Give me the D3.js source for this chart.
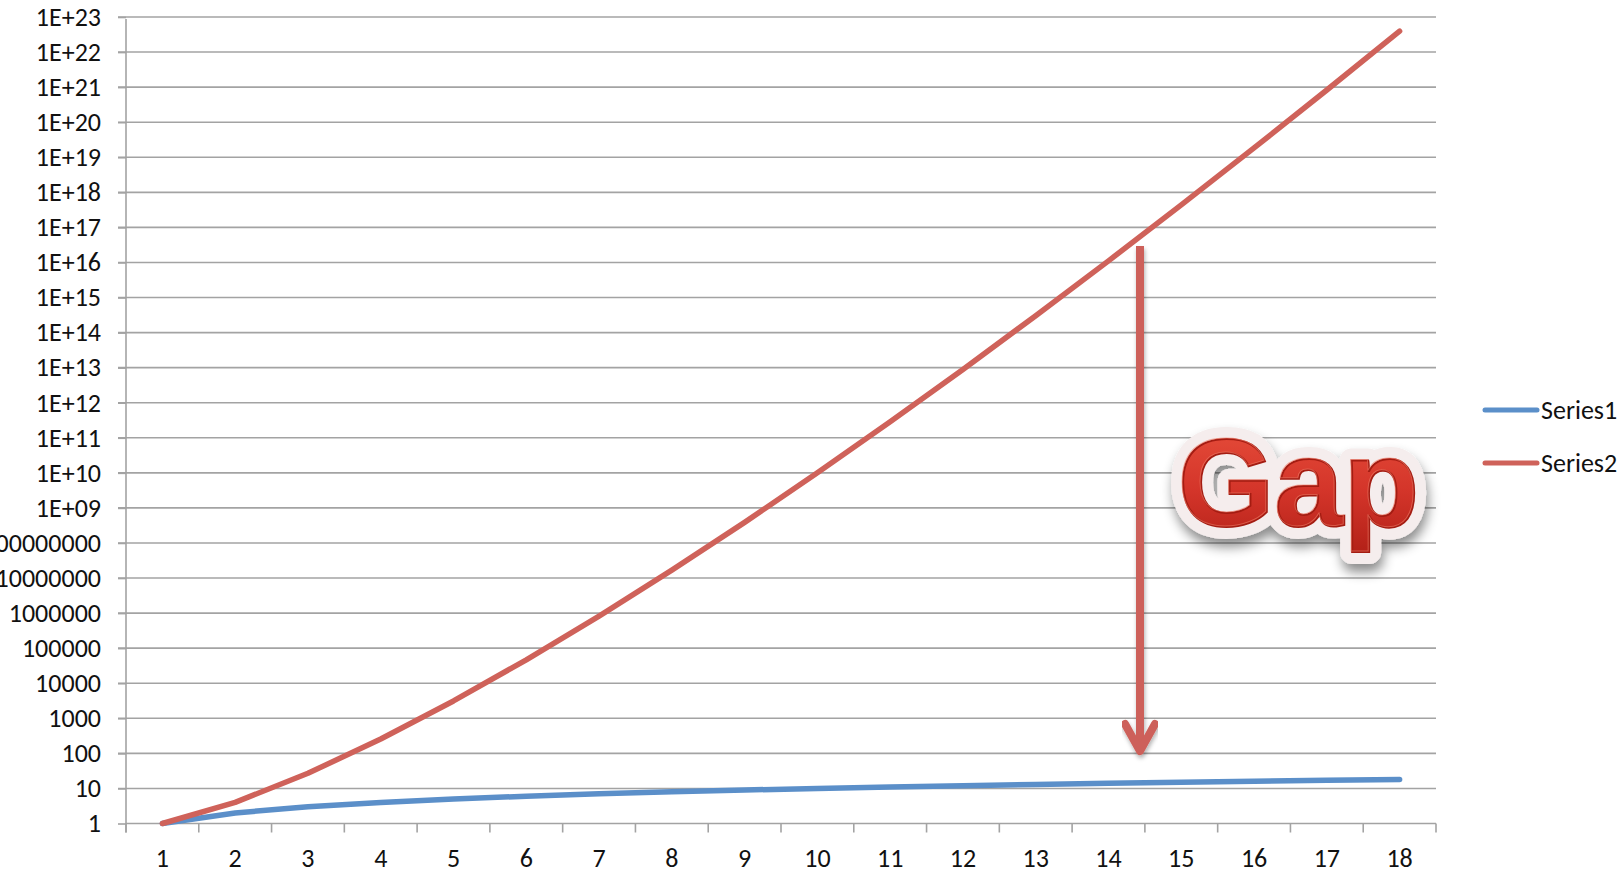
<!DOCTYPE html>
<html lang="en">
<head>
  <meta charset="UTF-8">
  <title>Series1 vs Series2</title>
  <script src="https://d3js.org/d3.v7.min.js"></script>
  <style>
    body { margin: 0; background: #fff; }
    text { font-family: Carlito, Lato, "Liberation Sans", sans-serif; }
  </style>
</head>
<body>
  <div id="chart"></div>
  <script>
    // data
    var categories = [1, 2, 3, 4, 5, 6, 7, 8, 9, 10, 11, 12, 13, 14, 15, 16, 17, 18];
    var series1 = [1, 2, 3, 4, 5, 6, 7, 8, 9, 10, 11, 12, 13, 14, 15, 16, 17, 18];
    var series2 = [1, 4, 27, 256, 3125, 46656, 823543, 16777216, 387420489, 1e10,
      2.853e11, 8.916e12, 3.029e14, 1.111e16, 4.379e17, 1.845e19, 8.272e20, 3.935e22];
    var yTickValues = [1, 1e1, 1e2, 1e3, 1e4, 1e5, 1e6, 1e7, 1e8, 1e9, 1e10, 1e11, 1e12,
      1e13, 1e14, 1e15, 1e16, 1e17, 1e18, 1e19, 1e20, 1e21, 1e22, 1e23];
    var yTickLabels = ["1", "10", "100", "1000", "10000", "100000", "1000000", "10000000",
      "100000000", "1E+09", "1E+10", "1E+11", "1E+12", "1E+13", "1E+14", "1E+15", "1E+16",
      "1E+17", "1E+18", "1E+19", "1E+20", "1E+21", "1E+22", "1E+23"];
    var seriesNames = ["Series1", "Series2"];
    var colors = ["#5b8fc9", "#cf625a"];

    var W = 1624, H = 873;
    var plotLeft = 126, plotRight = 1436, plotTop = 17, plotBottom = 823.5;
    var gridColor = "#a3a3a3";
    var labelSize = "26px";

    var svg = d3.select("#chart").append("svg")
      .attr("width", W).attr("height", H);

    var defs = svg.append("defs");
    var grad = defs.append("linearGradient").attr("id", "gapFill")
      .attr("x1", 0).attr("y1", 0).attr("x2", 0).attr("y2", 1);
    grad.append("stop").attr("offset", "0%").attr("stop-color", "#e8503c");
    grad.append("stop").attr("offset", "55%").attr("stop-color", "#d4352a");
    grad.append("stop").attr("offset", "100%").attr("stop-color", "#b32118");
    var shadow = defs.append("filter").attr("id", "shadow")
      .attr("x", "-20%").attr("y", "-20%").attr("width", "140%").attr("height", "160%");
    shadow.append("feDropShadow").attr("dx", 2).attr("dy", 8)
      .attr("stdDeviation", 6).attr("flood-color", "#000").attr("flood-opacity", 0.45);
    var arrowShadow = defs.append("filter").attr("id", "arrowShadow");
    arrowShadow.append("feDropShadow").attr("dx", 1).attr("dy", 3)
      .attr("stdDeviation", 2).attr("flood-color", "#000").attr("flood-opacity", 0.3);

    var x = d3.scaleBand().domain(categories).range([plotLeft, plotRight]).padding(0);
    var y = d3.scaleLog().domain([1, 1e23]).range([plotBottom, plotTop]);

    // gridlines
    svg.append("g").selectAll("line")
      .data(yTickValues.slice(1))
      .enter().append("line")
      .attr("x1", plotLeft - 8).attr("x2", plotRight)
      .attr("y1", function (d) { return y(d); })
      .attr("y2", function (d) { return y(d); })
      .attr("stroke", gridColor).attr("stroke-width", 1.6);

    // y axis
    var yAxis = svg.append("g")
      .attr("transform", "translate(" + plotLeft + ",0)")
      .call(d3.axisLeft(y).tickValues(yTickValues)
        .tickFormat(function (d, i) { return yTickLabels[i]; })
        .tickSize(8).tickPadding(17));
    yAxis.select(".domain").attr("stroke", gridColor).attr("stroke-width", 1.6)
      .attr("d", "M0," + (plotTop + 2) + "V" + (plotBottom + 9));
    yAxis.selectAll(".tick line").attr("stroke", gridColor).attr("stroke-width", 1.6);
    yAxis.selectAll(".tick text").style("font-size", labelSize).style("fill", "#111");

    // x axis
    var xAxis = svg.append("g")
      .attr("transform", "translate(0," + plotBottom + ")")
      .call(d3.axisBottom(x).tickSize(0).tickPadding(25));
    xAxis.select(".domain").attr("stroke", gridColor).attr("stroke-width", 1.6)
      .attr("d", "M" + plotLeft + ",0H" + plotRight);
    xAxis.selectAll(".tick text").style("font-size", labelSize).style("fill", "#111");
    var edges = categories.map(function (c) { return x(c); }).concat([plotRight]);
    xAxis.selectAll(".edge").data(edges).enter().append("line")
      .attr("x1", function (d) { return d; }).attr("x2", function (d) { return d; })
      .attr("y1", 0).attr("y2", 9)
      .attr("stroke", gridColor).attr("stroke-width", 1.6);

    // lines
    var line = d3.line()
      .x(function (d, i) { return x(categories[i]) + x.bandwidth() / 2; })
      .y(function (d) { return y(d); });
    [series1, series2].forEach(function (s, k) {
      svg.append("path").datum(s)
        .attr("d", line)
        .attr("fill", "none")
        .attr("stroke", colors[k])
        .attr("stroke-width", 5.5)
        .attr("stroke-linecap", "round")
        .attr("stroke-linejoin", "round");
    });

    // legend
    var legend = svg.append("g");
    seriesNames.forEach(function (n, k) {
      var ly = 410 + k * 53;
      legend.append("line")
        .attr("x1", 1485).attr("x2", 1537).attr("y1", ly).attr("y2", ly)
        .attr("stroke", colors[k]).attr("stroke-width", 5).attr("stroke-linecap", "round");
      legend.append("text").attr("x", 1541).attr("y", ly + 9)
        .style("font-size", "26px").style("fill", "#111").text(n);
    });

    // gap arrow
    var arrow = svg.append("g").attr("filter", "url(#arrowShadow)")
      .attr("stroke", "#cd615a").attr("fill", "none")
      .attr("stroke-width", 8).attr("stroke-linecap", "round").attr("stroke-linejoin", "round");
    arrow.append("line").attr("x1", 1140).attr("x2", 1140).attr("y1", 246).attr("y2", 750)
      .attr("stroke-linecap", "butt");
    arrow.append("polyline").attr("points", "1125,724 1140,751 1155,724");

    // "Gap" label
    var gapFont = "'Liberation Sans', Arial, sans-serif";
    var gap = svg.append("g");
    gap.append("text").attr("x", 1178).attr("y", 526)
      .attr("filter", "url(#shadow)")
      .style("font-family", gapFont).style("font-weight", "bold").style("font-size", "124px")
      .style("fill", "#f5eded").attr("stroke", "#f5eded").attr("stroke-width", 24)
      .attr("stroke-linejoin", "round").text("Gap");
    gap.append("text").attr("x", 1178).attr("y", 526)
      .style("font-family", gapFont).style("font-weight", "bold").style("font-size", "124px")
      .style("fill", "url(#gapFill)").attr("stroke", "#a41c12").attr("stroke-width", 2)
      .text("Gap");
    gap.append("text").attr("x", 1178).attr("y", 526)
      .style("font-family", gapFont).style("font-weight", "bold").style("font-size", "124px")
      .style("fill", "none").attr("stroke", "#f07a66").attr("stroke-width", 1)
      .attr("stroke-opacity", 0.6).attr("transform", "translate(-1,-1)")
      .text("Gap");
  </script>
</body>
</html>
